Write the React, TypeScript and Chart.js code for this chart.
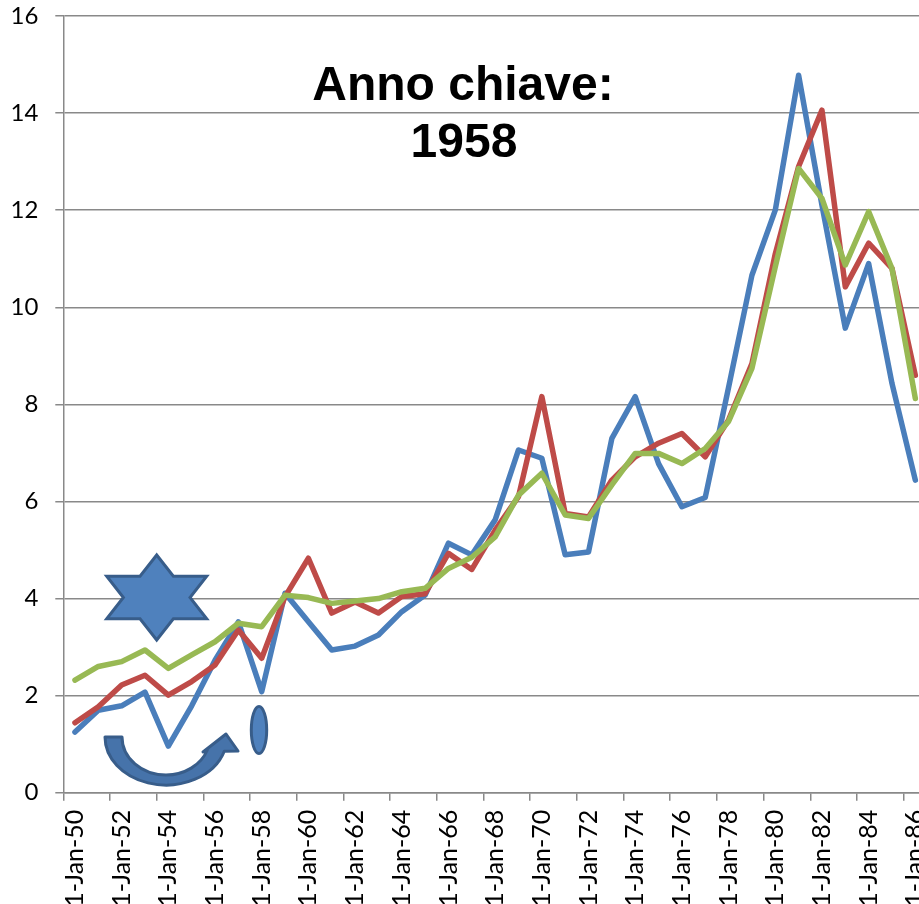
import React, { useEffect, useRef } from "react";
import { Chart, registerables } from "chart.js";

Chart.register(...registerables);

const categories = [
  "1-Jan-50", "1-Jan-51", "1-Jan-52", "1-Jan-53", "1-Jan-54", "1-Jan-55", "1-Jan-56", "1-Jan-57",
  "1-Jan-58", "1-Jan-59", "1-Jan-60", "1-Jan-61", "1-Jan-62", "1-Jan-63", "1-Jan-64", "1-Jan-65",
  "1-Jan-66", "1-Jan-67", "1-Jan-68", "1-Jan-69", "1-Jan-70", "1-Jan-71", "1-Jan-72", "1-Jan-73",
  "1-Jan-74", "1-Jan-75", "1-Jan-76", "1-Jan-77", "1-Jan-78", "1-Jan-79", "1-Jan-80", "1-Jan-81",
  "1-Jan-82", "1-Jan-83", "1-Jan-84", "1-Jan-85", "1-Jan-86",
];

const seriesBlue = [
  1.25, 1.70, 1.79, 2.07, 0.96, 1.79, 2.73, 3.52, 2.08, 4.11, 3.52, 2.94, 3.02, 3.25, 3.73, 4.07,
  5.14, 4.90, 5.62, 7.06, 6.89, 4.90, 4.96, 7.30, 8.16, 6.78, 5.89, 6.08, 8.35, 10.66, 12.0, 14.78,
  12.1, 9.57, 10.90, 8.43, 6.44,
];

const seriesRed = [
  1.44, 1.77, 2.22, 2.42, 2.01, 2.29, 2.63, 3.35, 2.77, 4.04, 4.83, 3.70, 3.93, 3.70, 4.04, 4.10,
  4.93, 4.60, 5.41, 6.10, 8.16, 5.75, 5.68, 6.44, 6.92, 7.20, 7.40, 6.92, 7.68, 8.84, 11.1, 12.9,
  14.06, 10.42, 11.32, 10.8, 8.6,
];

const seriesGreen = [
  2.32, 2.60, 2.70, 2.94, 2.56, 2.84, 3.11, 3.49, 3.42, 4.07, 4.02, 3.90, 3.95, 4.00, 4.14, 4.21,
  4.62, 4.85, 5.27, 6.13, 6.58, 5.72, 5.65, 6.34, 6.99, 6.99, 6.78, 7.09, 7.65, 8.74, 10.83, 12.86,
  12.24, 10.87, 11.97, 10.8, 8.12,
];

const yMin = 0;
const yMax = 16;
const yStep = 2;

const titleLines = ["Anno chiave:", "1958"];

const GRAY = "#898989";
const SHAPE_FILL = "#4F81BD";
const SHAPE_STROKE = "#385D8A";

const decorPlugin = {
  id: "decor",
  afterDraw(chart: any) {
    const ctx = chart.ctx as CanvasRenderingContext2D;
    ctx.save();

    // Title text
    ctx.fillStyle = "#000";
    ctx.font = "bold 48px 'Liberation Sans', Arial, sans-serif";
    ctx.textAlign = "center";
    ctx.textBaseline = "alphabetic";
    ctx.fillText(titleLines[0], 463, 100);
    ctx.fillText(titleLines[1], 464, 157);

    // Star of David (hexagram), stretched horizontally
    const cx = 156.7, cy = 597.5, R = 42.5, r = R / Math.sqrt(3), sx = 1.358;
    ctx.beginPath();
    for (let k = 0; k < 12; k++) {
      const a = (-90 + k * 30) * Math.PI / 180;
      const rad = k % 2 === 0 ? R : r;
      const x = cx + sx * rad * Math.cos(a);
      const y = cy + rad * Math.sin(a);
      if (k === 0) ctx.moveTo(x, y); else ctx.lineTo(x, y);
    }
    ctx.closePath();
    ctx.fillStyle = SHAPE_FILL;
    ctx.fill();
    ctx.lineWidth = 3;
    ctx.lineJoin = "miter";
    ctx.strokeStyle = SHAPE_STROKE;
    ctx.stroke();

    // Oval
    ctx.beginPath();
    ctx.ellipse(259, 730, 7.7, 23.5, 0, 0, Math.PI * 2);
    ctx.fillStyle = SHAPE_FILL;
    ctx.fill();
    ctx.lineWidth = 3;
    ctx.strokeStyle = SHAPE_STROKE;
    ctx.stroke();

    // Curved U arrow
    const ax = 166, ay = 737;
    const inEnd = 0.35, outEnd = 0.3;
    ctx.beginPath();
    ctx.moveTo(105, ay);
    ctx.lineTo(122, ay);
    ctx.ellipse(ax, ay, 44, 38, 0, Math.PI, inEnd, true);
    ctx.lineTo(203, 752);
    ctx.lineTo(226, 734);
    ctx.lineTo(238, 751);
    ctx.lineTo(ax + 61 * Math.cos(outEnd), ay + 48 * Math.sin(outEnd));
    ctx.ellipse(ax, ay, 61, 48, 0, outEnd, Math.PI, false);
    ctx.closePath();
    ctx.fillStyle = "#4673AA";
    ctx.fill();
    ctx.lineWidth = 3;
    ctx.lineJoin = "round";
    ctx.strokeStyle = SHAPE_STROKE;
    ctx.stroke();

    ctx.restore();
  },
};

export default function App() {
  const canvasRef = useRef<HTMLCanvasElement | null>(null);

  useEffect(() => {
    if (!canvasRef.current) return;
    const chart = new Chart(canvasRef.current, {
      type: "line",
      data: {
        labels: categories,
        datasets: [
          { label: "A", data: seriesBlue, borderColor: "#4A7EBB", backgroundColor: "#4A7EBB", order: 3 },
          { label: "B", data: seriesRed, borderColor: "#BE4B48", backgroundColor: "#BE4B48", order: 2 },
          { label: "C", data: seriesGreen, borderColor: "#98B954", backgroundColor: "#98B954", order: 1 },
        ],
      },
      options: {
        responsive: false,
        animation: false,
        devicePixelRatio: 1,
        layout: { padding: { top: 16, left: 0, right: 0, bottom: 0 } },
        plugins: {
          legend: { display: false },
          tooltip: { enabled: false },
          title: { display: false },
        },
        elements: {
          point: { radius: 0, hoverRadius: 0 },
          line: { tension: 0, borderWidth: 5.5, borderJoinStyle: "round", borderCapStyle: "round" },
        },
        scales: {
          x: {
            type: "category",
            offset: true,
            grid: {
              offset: true,
              drawOnChartArea: false,
              drawTicks: true,
              tickLength: 8,
              lineWidth: 1.5,
              color: (c: any) => (typeof c.index === "number" && c.index % 2 === 0 ? GRAY : "rgba(0,0,0,0)"),
            },
            border: { display: true, color: GRAY, width: 1.5 },
            ticks: {
              autoSkip: false,
              maxRotation: 90,
              minRotation: 90,
              padding: 9,
              color: "#000",
              font: { family: "Lato, 'Open Sans', sans-serif", size: 25 },
              callback: (_v: any, i: number) => (i % 2 === 0 ? categories[i] : ""),
            },
            afterFit: (s: any) => {
              s.height = 904 - 792.7;
              s.paddingLeft = 0;
              s.paddingRight = 0;
              s.paddingTop = 0;
              s.paddingBottom = 0;
            },
          },
          y: {
            min: yMin,
            max: yMax,
            ticks: {
              stepSize: yStep,
              padding: 17,
              color: "#000",
              font: { family: "Lato, 'Open Sans', sans-serif", size: 24 },
            },
            grid: { color: GRAY, lineWidth: 1.5, tickLength: 8 },
            border: { display: true, color: GRAY, width: 1.5 },
            afterFit: (s: any) => {
              s.width = 63.3;
              s.paddingLeft = 0;
              s.paddingRight = 0;
              s.paddingTop = 0;
              s.paddingBottom = 0;
            },
          },
        },
      },
      plugins: [decorPlugin],
    });
    return () => chart.destroy();
  }, []);

  return (
    <div
      style={{
        position: "fixed",
        left: 0,
        top: 0,
        width: 919,
        height: 904,
        overflow: "hidden",
        background: "#fff",
      }}
    >
      <canvas ref={canvasRef} width={927} height={904} style={{ display: "block", width: 927, height: 904 }} />
    </div>
  );
}
